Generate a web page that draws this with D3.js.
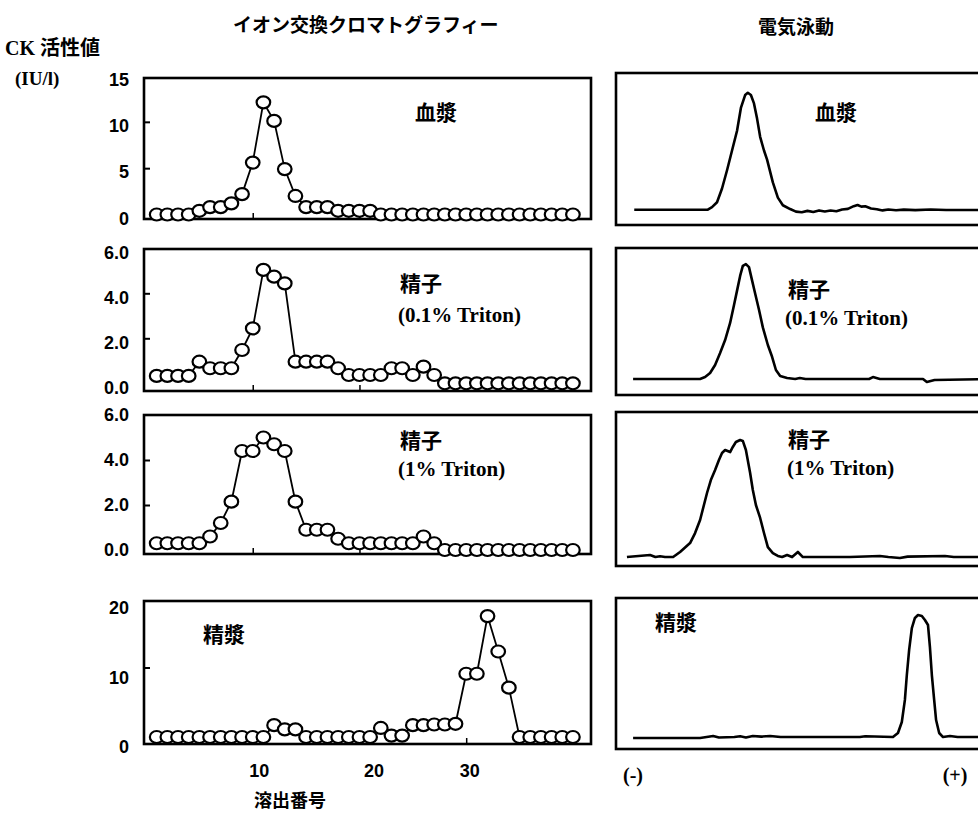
<!DOCTYPE html>
<html><head><meta charset="utf-8">
<script src="https://cdn.jsdelivr.net/npm/d3@7"></script>
<style>body{margin:0;background:#fff} svg{display:block}</style>
</head><body>
<svg id="c" width="978" height="813"></svg>
<script>
// ---------- DATA ----------
const fractions = [1,2,3,4,5,6,7,8,9,10,11,12,13,14,15,16,17,18,19,20,21,22,23,24,25,26,27,28,29,30,31,32,33,34,35,36,37,38,39,40];
const plasmaIEX = [0,0,0,0,0.4,0.8,0.8,1.2,2.2,5.6,12.1,10.1,4.9,2.0,0.8,0.8,0.8,0.4,0.4,0.4,0.4,0,0,0,0,0,0,0,0,0,0,0,0,0,0,0,0,0,0,0];
const sperm01IEX = [0.33,0.33,0.33,0.33,0.96,0.67,0.67,0.67,1.48,2.44,5.04,4.74,4.44,0.96,0.96,0.96,0.96,0.67,0.37,0.37,0.37,0.37,0.67,0.67,0.37,0.74,0.37,0,0,0,0,0,0,0,0,0,0,0,0,0];
const sperm1IEX = [0.3,0.3,0.3,0.3,0.3,0.6,1.2,2.15,4.4,4.4,5.0,4.7,4.4,2.15,0.9,0.9,0.9,0.5,0.3,0.3,0.3,0.3,0.3,0.3,0.3,0.6,0.3,0,0,0,0,0,0,0,0,0,0,0,0,0];
const seminalIEX = [0,0,0,0,0,0,0,0,0,0,0,1.7,1.1,1.1,0,0,0,0,0,0,0,1.3,0.2,0.2,1.7,1.7,1.8,1.8,1.9,9.1,9.1,17.4,12.3,7.1,0,0,0,0,0,0];

const yTicksPlasma = [0,5,10,15];
const yTicksSperm = [0,2,4,6];
const yTicksSeminal = [0,10,20];
const xTicks = [10,20,30];

// electrophoresis densitometry traces: [mobility (0-100), relative density]
const plasmaEP = [[5,10],[24,10],[25.2,11.8],[26.5,15],[27.8,24],[29.1,36],[30.4,49],[31.7,62],[32.7,77],[33.8,85.5],[34.5,87],[35.3,85.5],[36.1,80],[36.9,70],[37.7,58],[38.7,49],[39.5,43],[41,28],[42.3,18],[43.6,13],[45.5,10.5],[47,8.8],[48.5,8.4],[50,9.3],[51.5,8.6],[53,9.6],[54.5,8.9],[56,9.5],[57.5,9.1],[59,10.2],[60.5,10.6],[62,12.4],[63,13.2],[64,12.1],[65,12.3],[66.5,10.9],[68,10.4],[69.5,9.6],[71,10.2],[73,9.7],[75,10.1],[78,9.8],[82,10.2],[86,9.9],[100,9.9]];
const sperm01EP = [[4.7,10.9],[22.1,10.9],[23.4,12.2],[24.7,15],[26,20.4],[27.3,28.6],[28.6,37.4],[29.9,49],[30.9,61],[31.7,71],[32.5,81],[33.2,87.8],[34,89],[34.8,87],[35.6,78],[36.4,69],[37.4,58],[38.4,46],[39.7,34],[40.8,26],[41.8,17],[42.9,12.9],[44.7,11.6],[46.8,10.9],[48,11.6],[49.5,10.9],[55,10.9],[66,10.9],[67,12.2],[68.8,10.9],[80,10.9],[81,8.8],[83,10.2],[100,10.9]];
const sperm1EP = [[3.1,5.8],[9.1,7.1],[10.5,5.8],[11.7,6.3],[13,5.8],[15.1,5.8],[16.9,9.1],[19.5,14.9],[20.8,21.4],[22.1,29.9],[23.9,47.4],[24.9,55.8],[26,62.3],[27,68.8],[27.8,73.4],[28.6,75.3],[29.9,74],[30.6,77.3],[31.4,80.5],[32.5,81.8],[33.2,81.2],[34,75.3],[35.1,60.4],[35.8,49.4],[36.6,39.6],[37.7,31.2],[38.7,21.4],[39.7,12.3],[41,8.4],[42.3,6.5],[43.4,5.8],[44.7,7.1],[46,5.8],[47.5,9.1],[48.8,5.8],[61,5.8],[68.8,6.5],[71,5.8],[74,5.2],[76,6.1],[85.7,6.5],[88,5.8],[100,5.8]];
const seminalEP = [[4.7,7.3],[22.1,7.3],[25.5,8.6],[27,7.6],[31,7.9],[32.5,8.4],[34,7.6],[35.8,8.6],[38,8.2],[40.3,8.6],[43,7.9],[48,7.9],[63.6,7.9],[65,8.4],[72.2,7.9],[73.5,10.6],[74.5,17.9],[75.3,32.5],[75.8,49],[76.4,65.6],[77.1,80.1],[77.9,86.8],[78.7,88.7],[79.7,88.1],[80.5,85.4],[81.3,82.1],[81.8,67.5],[82.3,49],[82.9,32.5],[83.4,19.2],[84.2,10.6],[85.2,7.9],[87,8.6],[89,7.9],[100,7.9]];

// ---------- DRAW ----------
const svg = d3.select("#c");
const JP = "'Noto Sans CJK JP', sans-serif";
const SERIF = "'Liberation Serif', 'Times New Roman', serif";
const SANS = "'Liberation Sans', Arial, sans-serif";

const xL = d3.scaleLinear().domain([0, 41.6]).range([146, 590]);

const leftPanels = [
  {vals: plasmaIEX, ticks: yTicksPlasma, fmt: d3.format("d"), max: 15, top: 78, bottom: 219, y0: 214.5, yMax: 75.5, labShift: 4,
   texts: [{t: "血漿", x: 415, y: 113, f: JP}]},
  {vals: sperm01IEX, ticks: yTicksSperm, fmt: d3.format(".1f"), max: 6, top: 249, bottom: 391, y0: 383.3, yMax: 248.3, labShift: 4,
   texts: [{t: "精子", x: 400, y: 284, f: JP}, {t: "(0.1% Triton)", x: 398, y: 315, f: SERIF}]},
  {vals: sperm1IEX, ticks: yTicksSperm, fmt: d3.format(".1f"), max: 6, top: 415, bottom: 554, y0: 550, yMax: 415, labShift: 0,
   texts: [{t: "精子", x: 400, y: 441, f: JP}, {t: "(1% Triton)", x: 398, y: 469, f: SERIF}]},
  {vals: seminalIEX, ticks: yTicksSeminal, fmt: d3.format("d"), max: 20, top: 601, bottom: 744, y0: 737, yMax: 598, labShift: 10,
   texts: [{t: "精漿", x: 203, y: 635, f: JP}]}
];

leftPanels.forEach(p => {
  const y = d3.scaleLinear().domain([0, p.max]).range([p.y0, p.yMax]);
  const g = svg.append("g");
  // frame
  g.append("rect").attr("x", 144).attr("y", p.top).attr("width", 591 - 144).attr("height", p.bottom - p.top)
    .attr("fill", "none").attr("stroke", "#000").attr("stroke-width", 2.6);
  // y axis
  const ya = g.append("g").attr("transform", "translate(144,0)")
    .call(d3.axisLeft(y).tickValues(p.ticks).tickFormat(p.fmt).tickSizeInner(-6).tickSizeOuter(0).tickPadding(15));
  ya.select(".domain").remove();
  ya.selectAll(".tick line").attr("stroke-width", 2)
    .filter(d => d === 0 || d === p.max).remove();
  ya.selectAll(".tick text").attr("font-family", SANS).attr("font-weight", "bold").attr("font-size", 18)
    .attr("fill", "#000").attr("y", p.labShift);
  // x inner ticks
  const xa = g.append("g").attr("transform", `translate(0,${p.bottom})`)
    .call(d3.axisBottom(xL).tickValues(xTicks).tickSizeInner(-6).tickSizeOuter(0).tickFormat(""));
  xa.select(".domain").remove();
  xa.selectAll(".tick line").attr("stroke-width", 1.5);
  // line + markers
  const line = d3.line().x((d, i) => xL(fractions[i])).y(d => y(d));
  g.append("path").datum(p.vals).attr("d", line).attr("fill", "none").attr("stroke", "#000").attr("stroke-width", 1.8);
  g.selectAll("ellipse").data(p.vals).join("ellipse")
    .attr("cx", (d, i) => xL(fractions[i])).attr("cy", d => y(d))
    .attr("rx", 6.8).attr("ry", 6)
    .attr("fill", "#fff").attr("stroke", "#000").attr("stroke-width", 2.2);
  p.texts.forEach(t => g.append("text").attr("x", t.x).attr("y", t.y).attr("dy", "0.35em")
    .attr("font-family", t.f).attr("font-weight", "bold").attr("font-size", 21).text(t.t));
});

// x axis labels (left column)
const xNudge = {10: 6, 20: 14, 30: 3};
const xLab = svg.append("g").attr("transform", "translate(0,744)")
  .call(d3.axisBottom(xL).tickValues(xTicks).tickFormat(d3.format("d")).tickSize(0).tickPadding(20));
xLab.select(".domain").remove();
xLab.selectAll(".tick text").attr("font-family", SANS).attr("font-weight", "bold").attr("font-size", 18)
  .attr("fill", "#000").attr("x", d => xNudge[d]);

svg.append("text").attr("x", 290).attr("y", 801).attr("dy", "0.35em").attr("text-anchor", "middle")
  .attr("font-family", JP).attr("font-weight", "bold").attr("font-size", 18).text("溶出番号");

// ---------- electrophoresis column ----------
const xR = d3.scaleLinear().domain([0, 100]).range([615, 1000]);
const rightPanels = [
  {trace: plasmaEP, top: 73, bottom: 225, texts: [{t: "血漿", x: 815, y: 113, f: JP}]},
  {trace: sperm01EP, top: 248, bottom: 395, texts: [{t: "精子", x: 788, y: 290, f: JP}, {t: "(0.1% Triton)", x: 785, y: 318, f: SERIF}]},
  {trace: sperm1EP, top: 412, bottom: 566, texts: [{t: "精子", x: 788, y: 440, f: JP}, {t: "(1% Triton)", x: 787, y: 468, f: SERIF}]},
  {trace: seminalEP, top: 598, bottom: 749, texts: [{t: "精漿", x: 655, y: 623, f: JP}]}
];
rightPanels.forEach(p => {
  const y = d3.scaleLinear().domain([0, 100]).range([p.bottom, p.top]);
  const g = svg.append("g");
  g.append("rect").attr("x", 616).attr("y", p.top).attr("width", 400).attr("height", p.bottom - p.top)
    .attr("fill", "none").attr("stroke", "#000").attr("stroke-width", 2.6);
  g.append("path").datum(p.trace)
    .attr("d", d3.line().x(d => xR(d[0])).y(d => y(d[1])))
    .attr("fill", "none").attr("stroke", "#000").attr("stroke-width", 2.6).attr("stroke-linejoin", "round");
  p.texts.forEach(t => g.append("text").attr("x", t.x).attr("y", t.y).attr("dy", "0.35em")
    .attr("font-family", t.f).attr("font-weight", "bold").attr("font-size", 21).text(t.t));
});
svg.append("text").attr("x", 633).attr("y", 775).attr("dy", "0.35em").attr("text-anchor", "middle")
  .attr("font-family", SERIF).attr("font-weight", "bold").attr("font-size", 20).text("(-)");
svg.append("text").attr("x", 955).attr("y", 775).attr("dy", "0.35em").attr("text-anchor", "middle")
  .attr("font-family", SERIF).attr("font-weight", "bold").attr("font-size", 20).text("(+)");

// ---------- titles ----------
svg.append("text").attr("x", 233).attr("y", 25).attr("dy", "0.35em")
  .attr("font-family", JP).attr("font-weight", "bold").attr("font-size", 19).text("イオン交換クロマトグラフィー");
svg.append("text").attr("x", 796).attr("y", 27).attr("dy", "0.35em").attr("text-anchor", "middle")
  .attr("font-family", JP).attr("font-weight", "bold").attr("font-size", 19).text("電気泳動");
svg.append("text").attr("x", 5).attr("y", 48).attr("dy", "0.35em")
  .attr("font-weight", "bold").attr("font-size", 20)
  .call(t => {
    t.append("tspan").attr("font-family", SERIF).text("CK ");
    t.append("tspan").attr("font-family", JP).text("活性値");
  });
svg.append("text").attr("x", 15).attr("y", 78).attr("dy", "0.35em")
  .attr("font-family", SERIF).attr("font-weight", "bold").attr("font-size", 19).text("(IU/l)");
</script>
</body></html>
